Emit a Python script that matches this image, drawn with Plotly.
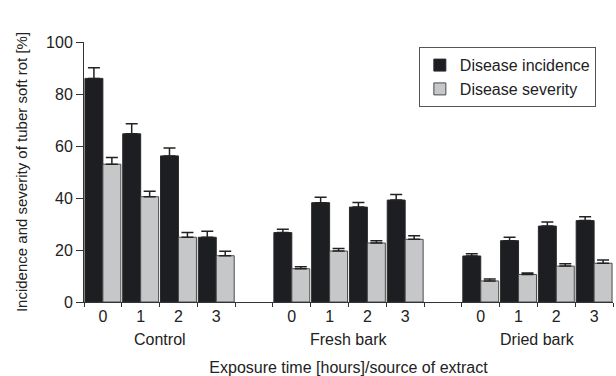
import plotly.graph_objects as go

categories = ["C0", "C1", "C2", "C3", "gap1", "F0", "F1", "F2", "F3", "gap2", "D0", "D1", "D2", "D3"]
tick_labels = ["0", "1", "2", "3", "", "0", "1", "2", "3", "", "0", "1", "2", "3"]
groups = ["Control", "Fresh bark", "Dried bark"]
group_centers = [1.5, 6.5, 11.5]

incidence = [86.0, 64.7, 56.2, 24.9, None, 26.7, 38.2, 36.5, 39.2, None, 17.7, 23.6, 29.2, 31.3]
incidence_err = [4.1, 3.9, 3.0, 2.3, None, 1.3, 2.1, 1.8, 2.1, None, 0.9, 1.3, 1.6, 1.5]
severity = [53.0, 40.5, 24.9, 17.8, None, 12.8, 19.6, 22.7, 24.1, None, 8.1, 10.6, 13.8, 14.9]
severity_err = [2.6, 2.1, 1.8, 1.7, None, 0.8, 1.0, 0.9, 1.4, None, 0.7, 0.6, 0.9, 1.3]

FONT = "Liberation Sans, Arial, sans-serif"
TXT = "#222222"

fig = go.Figure()
fig.add_trace(go.Bar(
    x=categories, y=incidence, name="Disease incidence",
    marker=dict(color="#1d1e22", line=dict(color="#2a2a2a", width=1)),
    error_y=dict(type="data", array=incidence_err, arrayminus=[0] * len(categories),
                 symmetric=False, color="#222222", thickness=1.5, width=6),
))
fig.add_trace(go.Bar(
    x=categories, y=severity, name="Disease severity",
    marker=dict(color="#c5c7c9", line=dict(color="#4a4a4a", width=1)),
    error_y=dict(type="data", array=severity_err, arrayminus=[0] * len(categories),
                 symmetric=False, color="#222222", thickness=1.5, width=6),
))

for g, c in zip(groups, group_centers):
    fig.add_annotation(x=c, y=-0.146, xref="x", yref="paper", text=g, showarrow=False,
                       font=dict(family=FONT, size=16, color=TXT), yanchor="middle")

fig.update_layout(
    width=616, height=376,
    margin=dict(l=84, r=3, t=42, b=74),
    paper_bgcolor="white", plot_bgcolor="white",
    barmode="group", bargap=0.05, bargroupgap=0.0,
    font=dict(family=FONT, size=16, color=TXT),
    showlegend=True,
    legend=dict(x=0.633, y=0.98, xanchor="left", yanchor="top",
                bordercolor="#555555", borderwidth=1, bgcolor="white",
                font=dict(family=FONT, size=16, color=TXT), tracegroupgap=0),
    xaxis=dict(type="category", categoryorder="array", categoryarray=categories,
               tickmode="array", tickvals=categories, ticktext=tick_labels,
               tickson="boundaries", ticks="outside", ticklen=4, tickcolor="#333333",
               showline=True, linecolor="#333333", linewidth=1, showgrid=False,
               range=[-0.5, 13.5], automargin=False,
               tickfont=dict(family=FONT, size=16, color=TXT),
               title=dict(text="Exposure time [hours]/source of extract", standoff=39,
                          font=dict(family=FONT, size=16, color=TXT))),
    yaxis=dict(range=[0, 100], tickvals=[0, 20, 40, 60, 80, 100], ticks="outside", ticklen=7,
               tickcolor="#333333", showline=True, linecolor="#333333", linewidth=1,
               showgrid=False, zeroline=False, automargin=False,
               tickfont=dict(family=FONT, size=16, color=TXT),
               title=dict(text="Incidence and severity of tuber soft rot [%]", standoff=14,
                          font=dict(family=FONT, size=15, color=TXT))),
)

fig.write_html("out.html", config={"displayModeBar": False},
               post_script="document.body.style.margin='0px';document.body.style.overflow='hidden';")
